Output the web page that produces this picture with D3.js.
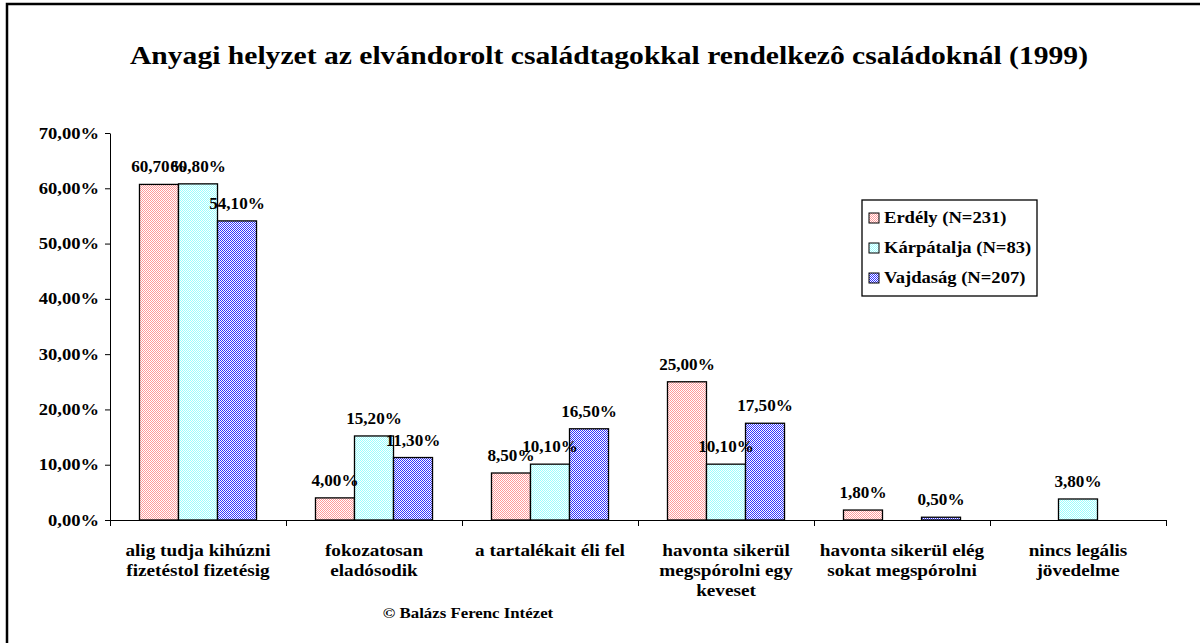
<!DOCTYPE html>
<html><head><meta charset="utf-8">
<script src="https://cdn.jsdelivr.net/npm/d3@7"></script>
<style>body{margin:0;background:#fff}svg{display:block}</style>
</head><body><svg id="c" width="1200" height="643"></svg>
<script>
const categories = [
  ["alig tudja kihúzni","fizetéstol fizetésig"],
  ["fokozatosan","eladósodik"],
  ["a tartalékait éli fel"],
  ["havonta sikerül","megspórolni egy","keveset"],
  ["havonta sikerül elég","sokat megspórolni"],
  ["nincs legális","jövedelme"]
];
const seriesNames = ["Erdély (N=231)","Kárpátalja (N=83)","Vajdaság (N=207)"];
const erdely = [60.7, 4.0, 8.5, 25.0, 1.8, null];
const karpatalja = [60.8, 15.2, 10.1, 10.1, null, 3.8];
const vajdasag = [54.1, 11.3, 16.5, 17.5, 0.5, null];
const yTicks = [0,10,20,30,40,50,60,70];
const series = [erdely, karpatalja, vajdasag];

const FF = "'Liberation Serif','Times New Roman',Times,'DejaVu Serif',serif";
const svg = d3.select("#c");
const defs = svg.append("defs");
const pats = [["pE","#ff9999","#ffffff"],["pK","#99ffff","#ffffff"],["pV","#3333ff","#ffffff"]];
pats.forEach(([id,c1,c2])=>{
  const p = defs.append("pattern").attr("id",id).attr("width",2).attr("height",2).attr("patternUnits","userSpaceOnUse");
  p.append("rect").attr("width",2).attr("height",2).attr("fill",c2);
  p.append("rect").attr("x",0).attr("y",0).attr("width",1).attr("height",1).attr("fill",c1);
  p.append("rect").attr("x",1).attr("y",1).attr("width",1).attr("height",1).attr("fill",c1);
});
const fills = ["url(#pE)","url(#pK)","url(#pV)"];
function T(sel){ return sel.style("font-family",FF).style("font-weight","bold").attr("fill","#000"); }
function stretch(sel,k){
  sel.each(function(){
    const len = this.getComputedTextLength();
    if(len>0) d3.select(this).attr("textLength",len*k).attr("lengthAdjust","spacingAndGlyphs");
  });
  return sel;
}

// frame
svg.append("path").attr("d","M7,643 V4 H1200").attr("fill","none").attr("stroke","#000").attr("stroke-width",2.5);

T(svg.append("text")).attr("x",609).attr("y",64).attr("text-anchor","middle").style("font-size","26px")
  .attr("textLength",958).attr("lengthAdjust","spacingAndGlyphs")
  .text("Anyagi helyzet az elvándorolt családtagokkal rendelkezô családoknál (1999)");

const x0 = d3.scaleBand().domain(d3.range(categories.length)).range([110,1166]).paddingInner(0.335).paddingOuter(0.1675);
const x1 = d3.scaleBand().domain(d3.range(3)).range([0,x0.bandwidth()]);
const y = d3.scaleLinear().domain([0,70]).range([520,133]);

const fmt = v => d3.format(".2f")(v).replace(".",",")+"%";

// y axis
const ya = svg.append("g").attr("transform","translate(110,0)")
  .call(d3.axisLeft(y).tickValues(yTicks).tickSize(5).tickSizeOuter(0).tickFormat(fmt));
ya.select(".domain").attr("stroke","#000");
ya.selectAll("line").attr("stroke","#000");
stretch(T(ya.selectAll("text")).style("font-size","16px").attr("dx",-3), 1.16);

// bars
series.forEach((s,i)=>{
  const g = svg.append("g");
  s.forEach((v,j)=>{
    if(v==null) return;
    const bx = x0(j)+x1(i);
    g.append("rect").attr("x",bx).attr("y",y(v)).attr("width",x1.bandwidth()).attr("height",y(0)-y(v))
      .attr("fill",fills[i]).attr("stroke","#000").attr("stroke-width",1.3);
  });
});
// labels
series.forEach((s,i)=>{
  s.forEach((v,j)=>{
    if(v==null) return;
    stretch(T(svg.append("text")).attr("x",x0(j)+x1(i)+x1.bandwidth()/2).attr("y",y(v)-12)
      .attr("text-anchor","middle").style("font-size","16px").text(fmt(v)), 1.07);
  });
});

// x axis
const xs = d3.scaleLinear().domain([0,categories.length]).range([110,1166]);
const xa = svg.append("g").attr("transform","translate(0,520)")
  .call(d3.axisBottom(xs).tickValues(d3.range(categories.length+1)).tickSize(6).tickSizeOuter(0).tickFormat(""));
xa.select(".domain").attr("stroke","#000");
xa.selectAll("line").attr("stroke","#000");

categories.forEach((lines,j)=>{
  const cx = x0(j)+x0.bandwidth()/2;
  lines.forEach((l,k)=>{
    stretch(T(svg.append("text")).attr("x",cx).attr("y",556+k*20).attr("text-anchor","middle").style("font-size","16px").text(l), 1.2);
  });
});

stretch(T(svg.append("text")).attr("x",468).attr("y",618).attr("text-anchor","middle").style("font-size","15px").text("© Balázs Ferenc Intézet"), 1.12);

// legend
const lg = svg.append("g");
lg.append("rect").attr("x",862).attr("y",200).attr("width",175).attr("height",96).attr("fill","#fff").attr("stroke","#000").attr("stroke-width",1.3);
seriesNames.forEach((n,i)=>{
  const yy = 218+i*30;
  lg.append("rect").attr("x",869).attr("y",yy-5).attr("width",10).attr("height",10).attr("fill",fills[i]).attr("stroke","#000").attr("stroke-width",1);
  stretch(T(lg.append("text")).attr("x",884).attr("y",yy+5).style("font-size","16px").text(n), 1.16);
});
</script></body></html>
